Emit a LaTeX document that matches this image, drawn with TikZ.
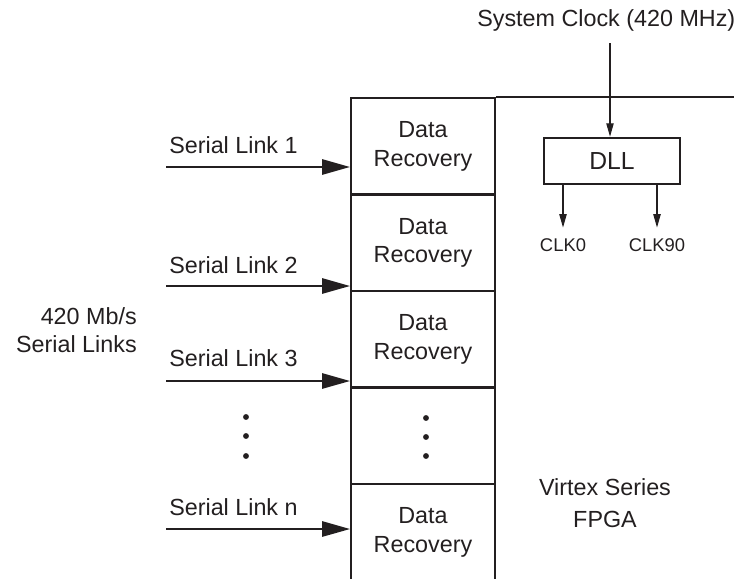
\documentclass[tikz,border=0pt]{standalone}
\usepackage{fontspec}
\setmainfont{Liberation Sans}
\usepackage{tikz}
\usetikzlibrary{arrows.meta}
\usepackage{xcolor}
\definecolor{inkGray}{RGB}{35,31,32}

\begin{document}
\begin{tikzpicture}[
    x=0.75pt, y=-0.75pt,
    every node/.style={text=inkGray},
    cell/.style={rectangle, draw=inkGray, line width=1.5pt, minimum width=108pt, minimum height=72.4pt, align=center, font=\fontsize{17.5}{21.5}\selectfont},
    dllbox/.style={rectangle, draw=inkGray, line width=1.5pt, minimum width=102pt, minimum height=35pt, font=\fontsize{18.5}{22}\selectfont},
    lbl/.style={inner sep=0pt, align=center, font=\fontsize{17.5}{21.5}\selectfont},
    clk/.style={inner xsep=0pt, inner ysep=8pt, font=\fontsize{13.8}{16}\selectfont},
    link/.style={-{Triangle[length=21pt,width=11.5pt]}, line width=1.5pt, draw=inkGray},
    clkarrow/.style={-{Triangle[length=10pt,width=5.5pt]}, line width=0.8pt, draw=inkGray}
]
\useasboundingbox (0,0) rectangle (734,578);

% Data Recovery column
\node[cell] (rec1) at (423,146.25) {Data\\Recovery};
\node[cell] (rec2) at (423,242.75) {Data\\Recovery};
\node[cell] (rec3) at (423,339.25) {Data\\Recovery};
\node[cell] (rec4) at (423,435.75) {};
\node[cell] (rec5) at (423,532.25) {Data\\Recovery};

% FPGA outline
\draw[inkGray, line width=1.5pt] (rec1.north east) -- (rec1.north -| 745,0);
\node[lbl] (fpga) at (605,503) {Virtex Series\\[3pt]FPGA};

% DLL and clocks
\node[dllbox] (dll) at (612,161) {DLL};
\node[lbl, anchor=west] (sysclk) at (477,20) {System Clock (420 MHz)};
\coordinate (clkin) at (610,43);
\node[clk] (clk0)  at (563,245) {CLK0};
\node[clk] (clk90) at (657,245) {CLK90};

\draw[clkarrow] (clkin) -- (clkin |- dll.north);
\draw[clkarrow] (dll.south -| clk0) -- (clk0.north);
\draw[clkarrow] (dll.south -| clk90) -- (clk90.north);

% Serial links
\node[lbl] (rate) at (137,330) [anchor=east, align=right] {420 Mb/s\\Serial Links};
\node[lbl, anchor=west] (name1) at (169,145) {Serial Link 1};
\node[lbl, anchor=west] (name2) at (169,265) {Serial Link 2};
\node[lbl, anchor=west] (name3) at (169,358) {Serial Link 3};
\node[lbl, anchor=west] (namen) at (169,507) {Serial Link n};

\coordinate (src1) at (166,167);
\coordinate (src2) at (166,286);
\coordinate (src3) at (166,381);
\coordinate (srcn) at (166,529);

\draw[link] (src1) -- (src1 -| rec1.west);
\draw[link] (src2) -- (src2 -| rec2.west);
\draw[link] (src3) -- (src3 -| rec3.west);
\draw[link] (srcn) -- (srcn -| rec5.west);

% Dots
\foreach \y in {417,436,456}
  \fill[inkGray] (246,\y) circle (2.2pt);
\foreach \y in {418,437,456}
  \fill[inkGray] (426,\y) circle (2.2pt);

\end{tikzpicture}
\end{document}
